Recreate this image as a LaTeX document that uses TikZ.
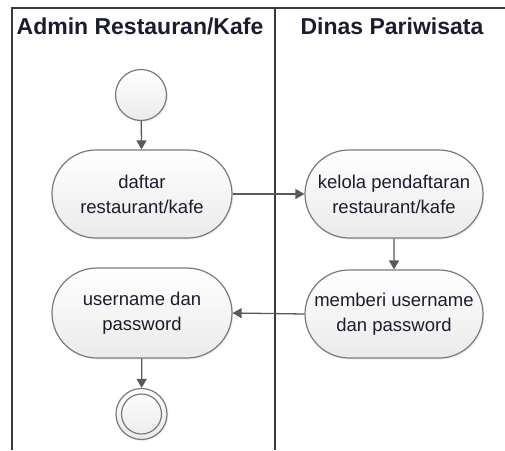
\documentclass[tikz,border=0pt]{standalone}
\usepackage{fontspec}
\setmainfont{Liberation Sans}
\usetikzlibrary{shapes.misc,arrows.meta,shadows}
\definecolor{lane}{HTML}{3A3A3A}
\definecolor{edge}{HTML}{7A7A7A}
\definecolor{arrowc}{HTML}{595959}
\definecolor{txt}{HTML}{1C1C30}
\tikzset{
  act/.style={rounded rectangle, draw=edge, line width=1.2pt, top color=white, bottom color=black!8,
    minimum width=180pt, minimum height=88pt, align=center, text=txt,
    font=\fontsize{18.5}{25}\selectfont, inner sep=0pt,
    drop shadow={shadow xshift=1.5pt, shadow yshift=-1.5pt, opacity=0.12}},
  startnode/.style={circle, draw=edge, line width=1.2pt, top color=white, bottom color=black!8,
    minimum size=51pt, inner sep=0pt,
    drop shadow={shadow xshift=1.5pt, shadow yshift=-1.5pt, opacity=0.12}},
  flow/.style={draw=arrowc, line width=1.3pt, -{Triangle[length=9pt,width=10pt]}},
  lanel/.style={draw=lane, line width=1.6pt},
  head/.style={font=\bfseries\fontsize{23}{26}\selectfont, text=txt, inner sep=0pt}
}
\begin{document}
\begin{tikzpicture}[x=1pt,y=-1pt]
\useasboundingbox (0,0) rectangle (505,450);
\fill[white] (0,0) rectangle (505,450);
% swimlanes
\draw[lanel] (12,450) -- (12,8) -- (505,8);
\draw[lanel] (275,8) -- (275,450);
\node[head] (h1) at (140,26) {Admin Restauran/Kafe};
\node[head] (h2) at (392,26) {Dinas Pariwisata};
% nodes
\node[startnode] (start) at (141,95) {};
\node[act] (a1) at (142,194) {daftar\\restaurant/kafe};
\node[act, minimum width=178pt] (a2) at (394,194) {kelola pendaftaran\\restaurant/kafe};
\node[act, minimum width=178pt] (a3) at (394,314) {memberi username\\dan password};
\node[act, minimum height=90pt] (a4) at (142,313) {username dan\\password};
\node[startnode] (end) at (141.5,414) {};
\node[circle, draw=edge, line width=1.2pt, minimum size=40pt, inner sep=0pt] (endin) at (end.center) {};
% flows
\draw[flow] (start) -- (a1);
\draw[flow] (a1.east) -- (a2.west);
\draw[flow] (a2) -- (a3);
\draw[flow] (a3.west) -- (a4.east);
\draw[flow] (a4) -- (end);
\end{tikzpicture}
\end{document}
